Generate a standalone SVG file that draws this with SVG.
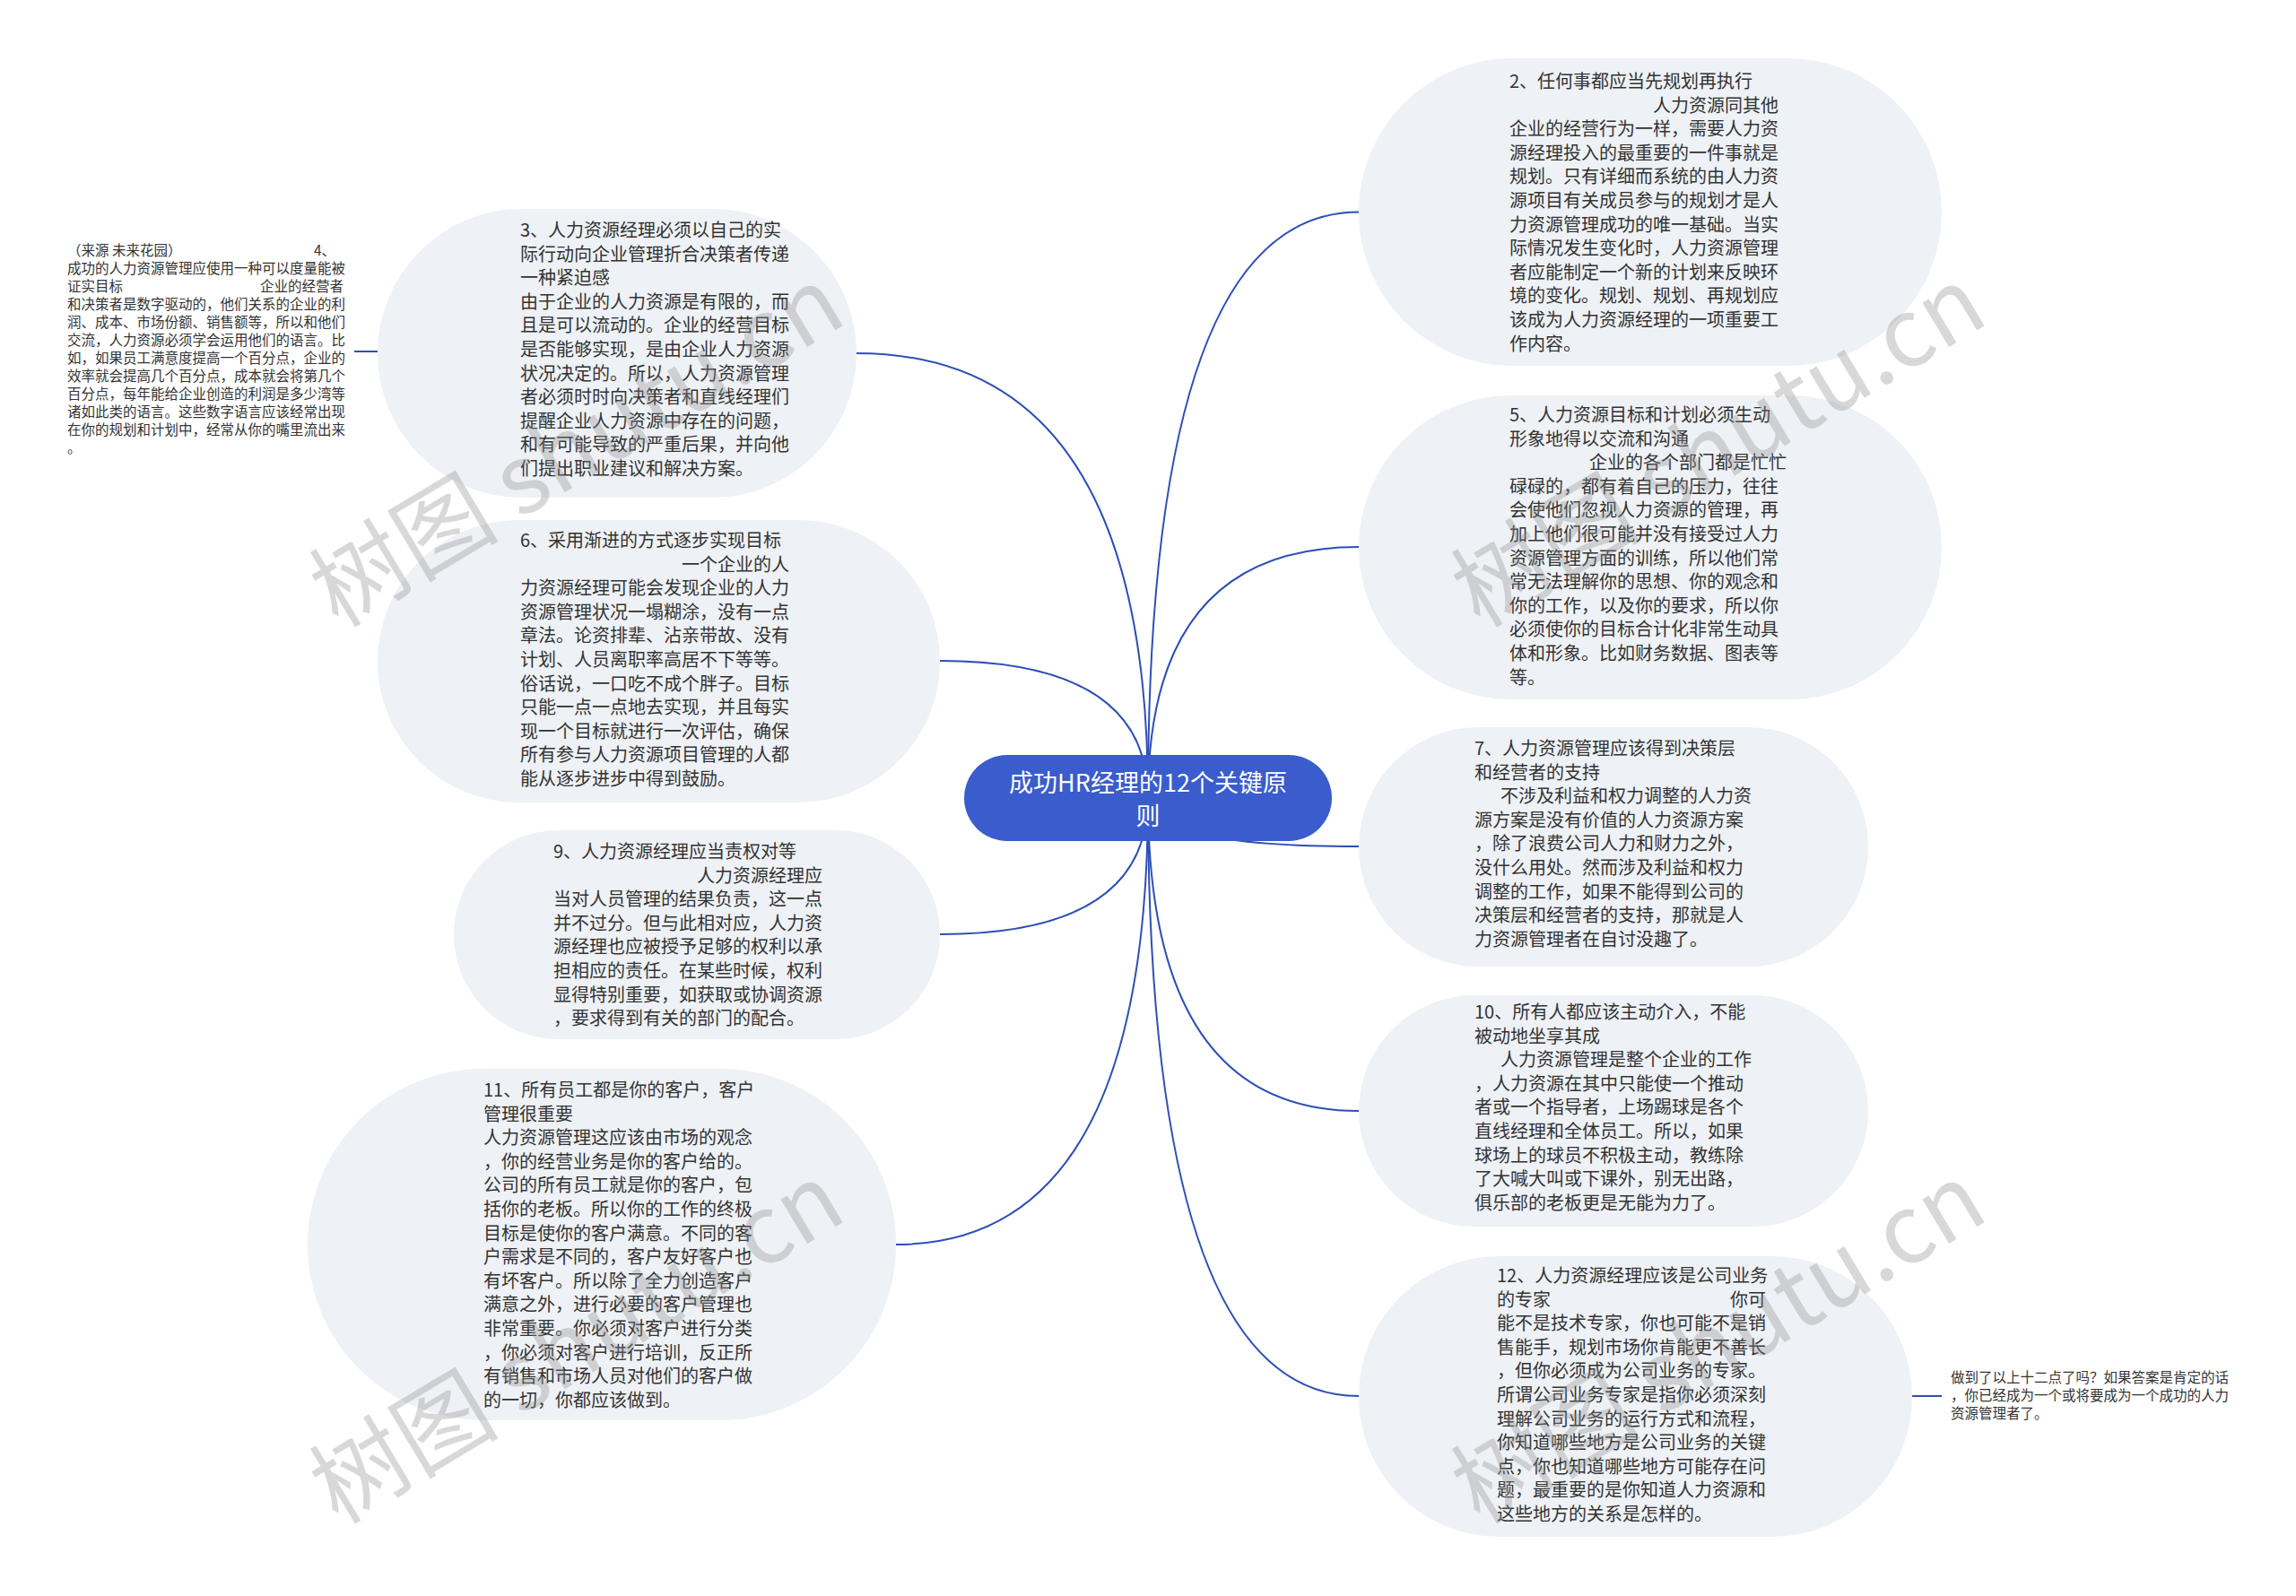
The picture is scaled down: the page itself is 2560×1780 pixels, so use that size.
<svg xmlns="http://www.w3.org/2000/svg" width="2560" height="1780" viewBox="0 0 2560 1780">
<defs>
<style>
.bg{fill:#ffffff}
.nb{fill:#eef1f5}
.t{font-family:"Noto Sans CJK SC","Noto Sans",sans-serif;font-size:20px;fill:#333333}
.s{font-family:"Noto Sans CJK SC","Noto Sans",sans-serif;font-size:15.5px;fill:#333333}
.c{fill:none;stroke:#2d4fb5;stroke-width:2}
.root{fill:#3a5ccc}
.rt{font-family:"Noto Sans CJK SC","Noto Sans",sans-serif;font-size:27px;fill:#ffffff}
.wm{font-family:"Noto Sans CJK SC","Noto Sans",sans-serif;font-size:106px;fill:#8c8c8c;opacity:0.33}
</style>
</defs>
<rect class="bg" x="0" y="0" width="2560" height="1780"/>
<g id="connectors">
<path class="c" d="M1280 890 Q1280 236.5 1515 236.5"/>
<path class="c" d="M1280 890 Q1280 610 1515 610"/>
<path class="c" d="M1280 890 Q1280 944 1515 944"/>
<path class="c" d="M1280 890 Q1280 1239 1515 1239"/>
<path class="c" d="M1280 890 Q1280 1557 1515 1557"/>
<path class="c" d="M1280 890 Q1280 394 955 394"/>
<path class="c" d="M1280 890 Q1280 737 1048 737"/>
<path class="c" d="M1280 890 Q1280 1042 1048 1042"/>
<path class="c" d="M1280 890 Q1280 1388 999 1388"/>
<path class="c" d="M421 392 L395 392"/>
<path class="c" d="M2132 1557 L2165 1557"/>
</g>
<g id="root">
<rect class="root" x="1075" y="842" width="410" height="96" rx="48"/>
<text class="rt" text-anchor="middle"><tspan x="1280" y="883">成功HR经理的12个关键原</tspan><tspan x="1280" y="920">则</tspan></text>
</g>
<g id="node2">
<rect class="nb" x="1515" y="65" width="650" height="343" rx="171.5"/>
<text class="t"><tspan x="1683" y="98">2、任何事都应当先规划再执行</tspan><tspan x="1843" dy="26.6">人力资源同其他</tspan><tspan x="1683" dy="26.6">企业的经营行为一样，需要人力资</tspan><tspan x="1683" dy="26.6">源经理投入的最重要的一件事就是</tspan><tspan x="1683" dy="26.6">规划。只有详细而系统的由人力资</tspan><tspan x="1683" dy="26.6">源项目有关成员参与的规划才是人</tspan><tspan x="1683" dy="26.6">力资源管理成功的唯一基础。当实</tspan><tspan x="1683" dy="26.6">际情况发生变化时，人力资源管理</tspan><tspan x="1683" dy="26.6">者应能制定一个新的计划来反映环</tspan><tspan x="1683" dy="26.6">境的变化。规划、规划、再规划应</tspan><tspan x="1683" dy="26.6">该成为人力资源经理的一项重要工</tspan><tspan x="1683" dy="26.6">作内容。</tspan></text>
</g>
<g id="node5">
<rect class="nb" x="1515" y="441" width="650" height="339" rx="169.5"/>
<text class="t"><tspan x="1683" y="470">5、人力资源目标和计划必须生动</tspan><tspan x="1683" dy="26.6">形象地得以交流和沟通</tspan><tspan x="1772" dy="26.6">企业的各个部门都是忙忙</tspan><tspan x="1683" dy="26.6">碌碌的，都有着自己的压力，往往</tspan><tspan x="1683" dy="26.6">会使他们忽视人力资源的管理，再</tspan><tspan x="1683" dy="26.6">加上他们很可能并没有接受过人力</tspan><tspan x="1683" dy="26.6">资源管理方面的训练，所以他们常</tspan><tspan x="1683" dy="26.6">常无法理解你的思想、你的观念和</tspan><tspan x="1683" dy="26.6">你的工作，以及你的要求，所以你</tspan><tspan x="1683" dy="26.6">必须使你的目标合计化非常生动具</tspan><tspan x="1683" dy="26.6">体和形象。比如财务数据、图表等</tspan><tspan x="1683" dy="26.6">等。</tspan></text>
</g>
<g id="node7">
<rect class="nb" x="1515" y="811" width="568" height="267" rx="133.5"/>
<text class="t"><tspan x="1644" y="842">7、人力资源管理应该得到决策层</tspan><tspan x="1644" dy="26.6">和经营者的支持</tspan><tspan x="1673" dy="26.6">不涉及利益和权力调整的人力资</tspan><tspan x="1644" dy="26.6">源方案是没有价值的人力资源方案</tspan><tspan x="1644" dy="26.6">，除了浪费公司人力和财力之外，</tspan><tspan x="1644" dy="26.6">没什么用处。然而涉及利益和权力</tspan><tspan x="1644" dy="26.6">调整的工作，如果不能得到公司的</tspan><tspan x="1644" dy="26.6">决策层和经营者的支持，那就是人</tspan><tspan x="1644" dy="26.6">力资源管理者在自讨没趣了。</tspan></text>
</g>
<g id="node10">
<rect class="nb" x="1515" y="1110" width="568" height="258" rx="129"/>
<text class="t"><tspan x="1644" y="1136">10、所有人都应该主动介入，不能</tspan><tspan x="1644" dy="26.6">被动地坐享其成</tspan><tspan x="1673" dy="26.6">人力资源管理是整个企业的工作</tspan><tspan x="1644" dy="26.6">，人力资源在其中只能使一个推动</tspan><tspan x="1644" dy="26.6">者或一个指导者，上场踢球是各个</tspan><tspan x="1644" dy="26.6">直线经理和全体员工。所以，如果</tspan><tspan x="1644" dy="26.6">球场上的球员不积极主动，教练除</tspan><tspan x="1644" dy="26.6">了大喊大叫或下课外，别无出路，</tspan><tspan x="1644" dy="26.6">俱乐部的老板更是无能为力了。</tspan></text>
</g>
<g id="node12">
<rect class="nb" x="1515" y="1401" width="617" height="313" rx="156.5"/>
<text class="t"><tspan x="1669" y="1430">12、人力资源经理应该是公司业务</tspan><tspan x="1669" dy="26.6">的专家</tspan><tspan x="1929" dy="0">你可</tspan><tspan x="1669" dy="26.6">能不是技术专家，你也可能不是销</tspan><tspan x="1669" dy="26.6">售能手，规划市场你肯能更不善长</tspan><tspan x="1669" dy="26.6">，但你必须成为公司业务的专家。</tspan><tspan x="1669" dy="26.6">所谓公司业务专家是指你必须深刻</tspan><tspan x="1669" dy="26.6">理解公司业务的运行方式和流程，</tspan><tspan x="1669" dy="26.6">你知道哪些地方是公司业务的关键</tspan><tspan x="1669" dy="26.6">点，你也知道哪些地方可能存在问</tspan><tspan x="1669" dy="26.6">题，最重要的是你知道人力资源和</tspan><tspan x="1669" dy="26.6">这些地方的关系是怎样的。</tspan></text>
</g>
<g id="summary">
<text class="s"><tspan x="2175" y="1542">做到了以上十二点了吗？如果答案是肯定的话</tspan><tspan x="2175" dy="20">，你已经成为一个或将要成为一个成功的人力</tspan><tspan x="2175" dy="20">资源管理者了。</tspan></text>
</g>
<g id="node3">
<rect class="nb" x="421" y="233" width="534" height="322" rx="161"/>
<text class="t"><tspan x="580" y="264">3、人力资源经理必须以自己的实</tspan><tspan x="580" dy="26.6">际行动向企业管理折合决策者传递</tspan><tspan x="580" dy="26.6">一种紧迫感</tspan><tspan x="580" dy="26.6">由于企业的人力资源是有限的，而</tspan><tspan x="580" dy="26.6">且是可以流动的。企业的经营目标</tspan><tspan x="580" dy="26.6">是否能够实现，是由企业人力资源</tspan><tspan x="580" dy="26.6">状况决定的。所以，人力资源管理</tspan><tspan x="580" dy="26.6">者必须时时向决策者和直线经理们</tspan><tspan x="580" dy="26.6">提醒企业人力资源中存在的问题，</tspan><tspan x="580" dy="26.6">和有可能导致的严重后果，并向他</tspan><tspan x="580" dy="26.6">们提出职业建议和解决方案。</tspan></text>
</g>
<g id="node4">
<text class="s"><tspan x="75" y="285">（来源 未来花园）</tspan><tspan x="350" dy="0">4、</tspan><tspan x="75" dy="20">成功的人力资源管理应使用一种可以度量能被</tspan><tspan x="75" dy="20">证实目标</tspan><tspan x="290" dy="0">企业的经营者</tspan><tspan x="75" dy="20">和决策者是数字驱动的，他们关系的企业的利</tspan><tspan x="75" dy="20">润、成本、市场份额、销售额等，所以和他们</tspan><tspan x="75" dy="20">交流，人力资源必须学会运用他们的语言。比</tspan><tspan x="75" dy="20">如，如果员工满意度提高一个百分点，企业的</tspan><tspan x="75" dy="20">效率就会提高几个百分点，成本就会将第几个</tspan><tspan x="75" dy="20">百分点，每年能给企业创造的利润是多少湾等</tspan><tspan x="75" dy="20">诸如此类的语言。这些数字语言应该经常出现</tspan><tspan x="75" dy="20">在你的规划和计划中，经常从你的嘴里流出来</tspan><tspan x="75" dy="20">。</tspan></text>
</g>
<g id="node6">
<rect class="nb" x="421" y="580" width="627" height="315" rx="157.5"/>
<text class="t"><tspan x="580" y="610">6、采用渐进的方式逐步实现目标</tspan><tspan x="760" dy="26.6">一个企业的人</tspan><tspan x="580" dy="26.6">力资源经理可能会发现企业的人力</tspan><tspan x="580" dy="26.6">资源管理状况一塌糊涂，没有一点</tspan><tspan x="580" dy="26.6">章法。论资排辈、沾亲带故、没有</tspan><tspan x="580" dy="26.6">计划、人员离职率高居不下等等。</tspan><tspan x="580" dy="26.6">俗话说，一口吃不成个胖子。目标</tspan><tspan x="580" dy="26.6">只能一点一点地去实现，并且每实</tspan><tspan x="580" dy="26.6">现一个目标就进行一次评估，确保</tspan><tspan x="580" dy="26.6">所有参与人力资源项目管理的人都</tspan><tspan x="580" dy="26.6">能从逐步进步中得到鼓励。</tspan></text>
</g>
<g id="node9">
<rect class="nb" x="506" y="926" width="542" height="233" rx="116.5"/>
<text class="t"><tspan x="617" y="957">9、人力资源经理应当责权对等</tspan><tspan x="777" dy="26.6">人力资源经理应</tspan><tspan x="617" dy="26.6">当对人员管理的结果负责，这一点</tspan><tspan x="617" dy="26.6">并不过分。但与此相对应，人力资</tspan><tspan x="617" dy="26.6">源经理也应被授予足够的权利以承</tspan><tspan x="617" dy="26.6">担相应的责任。在某些时候，权利</tspan><tspan x="617" dy="26.6">显得特别重要，如获取或协调资源</tspan><tspan x="617" dy="26.6">，要求得到有关的部门的配合。</tspan></text>
</g>
<g id="node11">
<rect class="nb" x="343" y="1192" width="656" height="392" rx="196"/>
<text class="t"><tspan x="539" y="1223">11、所有员工都是你的客户，客户</tspan><tspan x="539" dy="26.6">管理很重要</tspan><tspan x="539" dy="26.6">人力资源管理这应该由市场的观念</tspan><tspan x="539" dy="26.6">，你的经营业务是你的客户给的。</tspan><tspan x="539" dy="26.6">公司的所有员工就是你的客户，包</tspan><tspan x="539" dy="26.6">括你的老板。所以你的工作的终极</tspan><tspan x="539" dy="26.6">目标是使你的客户满意。不同的客</tspan><tspan x="539" dy="26.6">户需求是不同的，客户友好客户也</tspan><tspan x="539" dy="26.6">有坏客户。所以除了全力创造客户</tspan><tspan x="539" dy="26.6">满意之外，进行必要的客户管理也</tspan><tspan x="539" dy="26.6">非常重要。你必须对客户进行分类</tspan><tspan x="539" dy="26.6">，你必须对客户进行培训，反正所</tspan><tspan x="539" dy="26.6">有销售和市场人员对他们的客户做</tspan><tspan x="539" dy="26.6">的一切，你都应该做到。</tspan></text>
</g>
<g id="watermarks">
<text class="wm" text-anchor="middle" transform="translate(662 530) rotate(-31)">树图 shutu.cn</text>
<text class="wm" text-anchor="middle" transform="translate(1935 530) rotate(-31)">树图 shutu.cn</text>
<text class="wm" text-anchor="middle" transform="translate(662 1530) rotate(-31)">树图 shutu.cn</text>
<text class="wm" text-anchor="middle" transform="translate(1935 1530) rotate(-31)">树图 shutu.cn</text>
</g>
</svg>
